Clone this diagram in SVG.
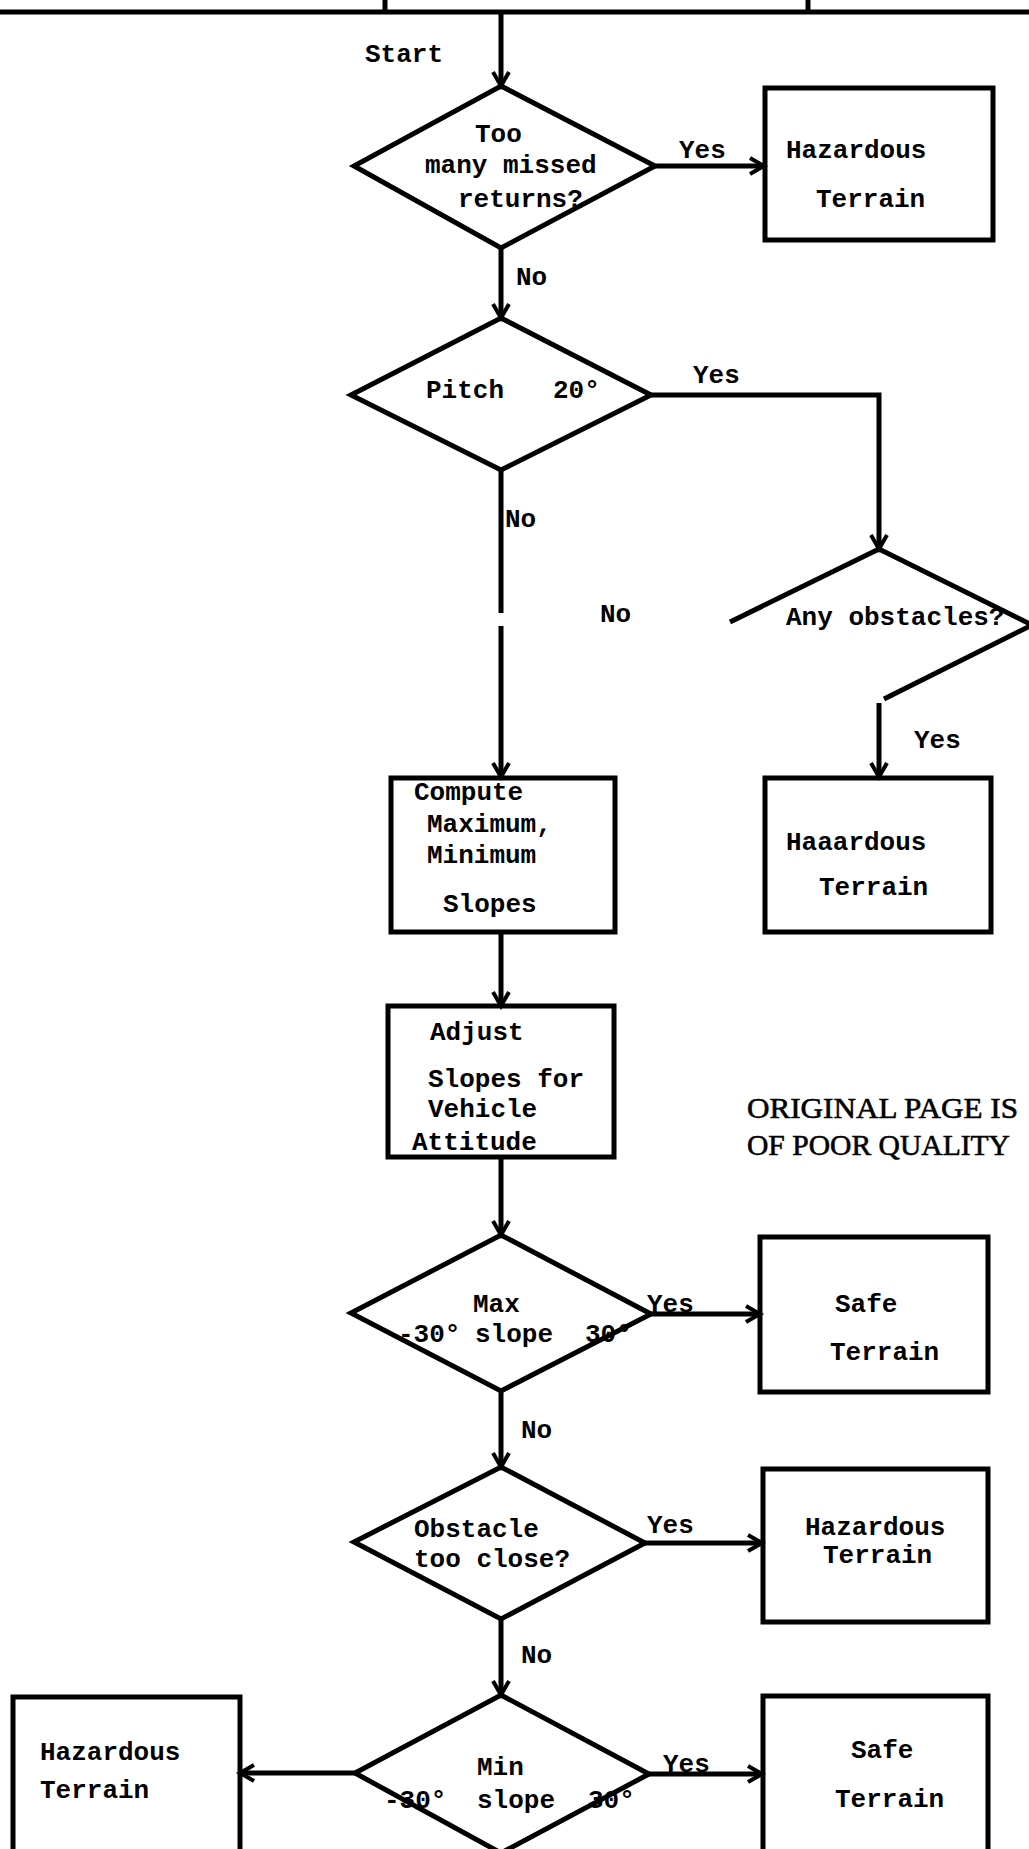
<svg xmlns="http://www.w3.org/2000/svg" width="1029" height="1849" viewBox="0 0 1029 1849">
<defs>
<style>
.sh{fill:none;stroke:#000;stroke-width:5;stroke-linejoin:miter}
.ln{fill:none;stroke:#000;stroke-width:5}
.t{font-family:"Liberation Mono","Courier New",monospace;font-weight:bold;font-size:26px;fill:#000}
.s{font-family:"Liberation Serif","Times New Roman",serif;font-size:30px;fill:#000;stroke:#000;stroke-width:0.6}
</style>
<marker id="arr" viewBox="0 0 20 20" markerUnits="userSpaceOnUse" markerWidth="20" markerHeight="20" refX="16" refY="10" orient="auto">
<path d="M2,2 L16,10 L2,18" fill="none" stroke="#000" stroke-width="4"/>
</marker>
</defs>
<rect width="1029" height="1849" fill="#fff"/>

<g id="page-edge">
<path class="ln" d="M0,12 H1029 M385,0 V12 M808,0 V12"/>
</g>

<g id="connectors">
<path class="ln" d="M501,12 V86" marker-end="url(#arr)"/>
<path class="ln" d="M655,166 H764" marker-end="url(#arr)"/>
<path class="ln" d="M501,248 V318" marker-end="url(#arr)"/>
<path class="ln" d="M651,395 H879 V549" marker-end="url(#arr)"/>
<path class="ln" d="M501,470 V613"/>
<path class="ln" d="M501,626 V777" marker-end="url(#arr)"/>
<path class="ln" d="M879,703 V777" marker-end="url(#arr)"/>
<path class="ln" d="M501,932 V1006" marker-end="url(#arr)"/>
<path class="ln" d="M501,1157 V1235" marker-end="url(#arr)"/>
<path class="ln" d="M651,1314 H760" marker-end="url(#arr)"/>
<path class="ln" d="M501,1391 V1467" marker-end="url(#arr)"/>
<path class="ln" d="M645,1543 H762" marker-end="url(#arr)"/>
<path class="ln" d="M501,1619 V1695" marker-end="url(#arr)"/>
<path class="ln" d="M649,1774 H762" marker-end="url(#arr)"/>
<path class="ln" d="M355,1773 H240" marker-end="url(#arr)"/>
<text class="t" x="365" y="62">Start</text>
<text class="t" x="679" y="158">Yes</text>
<text class="t" x="516" y="285">No</text>
<text class="t" x="693" y="383">Yes</text>
<text class="t" x="505" y="527">No</text>
<text class="t" x="600" y="622">No</text>
<text class="t" x="914" y="748">Yes</text>
<text class="t" x="647" y="1312">Yes</text>
<text class="t" x="521" y="1438">No</text>
<text class="t" x="647" y="1533">Yes</text>
<text class="t" x="521" y="1663">No</text>
<text class="t" x="663" y="1772">Yes</text>
</g>

<g id="d1">
<path class="sh" d="M501,86 L655,166 L501,248 L354,166 Z"/>
<text class="t" x="475" y="142">Too</text>
<text class="t" x="425" y="173">many missed</text>
<text class="t" x="458" y="207">returns?</text>
</g>

<g id="b1">
<rect class="sh" x="765" y="88" width="228" height="152"/>
<text class="t" x="786" y="158">Hazardous</text>
<text class="t" x="816" y="207">Terrain</text>
</g>

<g id="d2">
<path class="sh" d="M501,318 L651,395 L501,470 L351,395 Z"/>
<text class="t" x="426" y="398">Pitch</text>
<text class="t" x="553" y="398">20°</text>
</g>

<g id="d3">
<path class="sh" d="M730,622 L879,549 L1032,625 L884,699"/>
<text class="t" x="786" y="625">Any obstacles?</text>
</g>

<g id="b2">
<rect class="sh" x="765" y="778" width="226" height="154"/>
<text class="t" x="786" y="850">Haaardous</text>
<text class="t" x="819" y="895">Terrain</text>
</g>

<g id="b3">
<rect class="sh" x="391" y="778" width="224" height="154"/>
<text class="t" x="414" y="800">Compute</text>
<text class="t" x="427" y="832">Maximum,</text>
<text class="t" x="427" y="863">Minimum</text>
<text class="t" x="443" y="912">Slopes</text>
</g>

<g id="b4">
<rect class="sh" x="388" y="1006" width="226" height="151"/>
<text class="t" x="430" y="1040">Adjust</text>
<text class="t" x="428" y="1087">Slopes for</text>
<text class="t" x="428" y="1117">Vehicle</text>
<text class="t" x="412" y="1150">Attitude</text>
</g>

<g id="note">
<text class="s" x="747" y="1118" textLength="271" lengthAdjust="spacingAndGlyphs">ORIGINAL PAGE IS</text>
<text class="s" x="747" y="1155" textLength="263" lengthAdjust="spacingAndGlyphs">OF POOR QUALITY</text>
</g>

<g id="d4">
<path class="sh" d="M501,1235 L651,1314 L501,1391 L351,1313 Z"/>
<text class="t" x="473" y="1312">Max</text>
<text class="t" x="398" y="1342">-30°</text>
<text class="t" x="475" y="1342">slope</text>
<text class="t" x="585" y="1342">30°</text>
</g>

<g id="b5">
<rect class="sh" x="760" y="1237" width="228" height="155"/>
<text class="t" x="835" y="1312">Safe</text>
<text class="t" x="830" y="1360">Terrain</text>
</g>

<g id="d5">
<path class="sh" d="M501,1467 L645,1543 L501,1619 L354,1542 Z"/>
<text class="t" x="414" y="1537">Obstacle</text>
<text class="t" x="414" y="1567">too close?</text>
</g>

<g id="b6">
<rect class="sh" x="763" y="1469" width="225" height="153"/>
<text class="t" x="805" y="1535">Hazardous</text>
<text class="t" x="823" y="1563">Terrain</text>
</g>

<g id="d6">
<path class="sh" d="M501,1695 L649,1774 L501,1853 L355,1773 Z"/>
<text class="t" x="477" y="1775">Min</text>
<text class="t" x="384" y="1808">-30°</text>
<text class="t" x="477" y="1808">slope</text>
<text class="t" x="588" y="1808">30°</text>
</g>

<g id="b7">
<rect class="sh" x="763" y="1696" width="225" height="160"/>
<text class="t" x="851" y="1758">Safe</text>
<text class="t" x="835" y="1807">Terrain</text>
</g>

<g id="b8">
<rect class="sh" x="13" y="1697" width="227" height="160"/>
<text class="t" x="40" y="1760">Hazardous</text>
<text class="t" x="40" y="1798">Terrain</text>
</g>
</svg>
